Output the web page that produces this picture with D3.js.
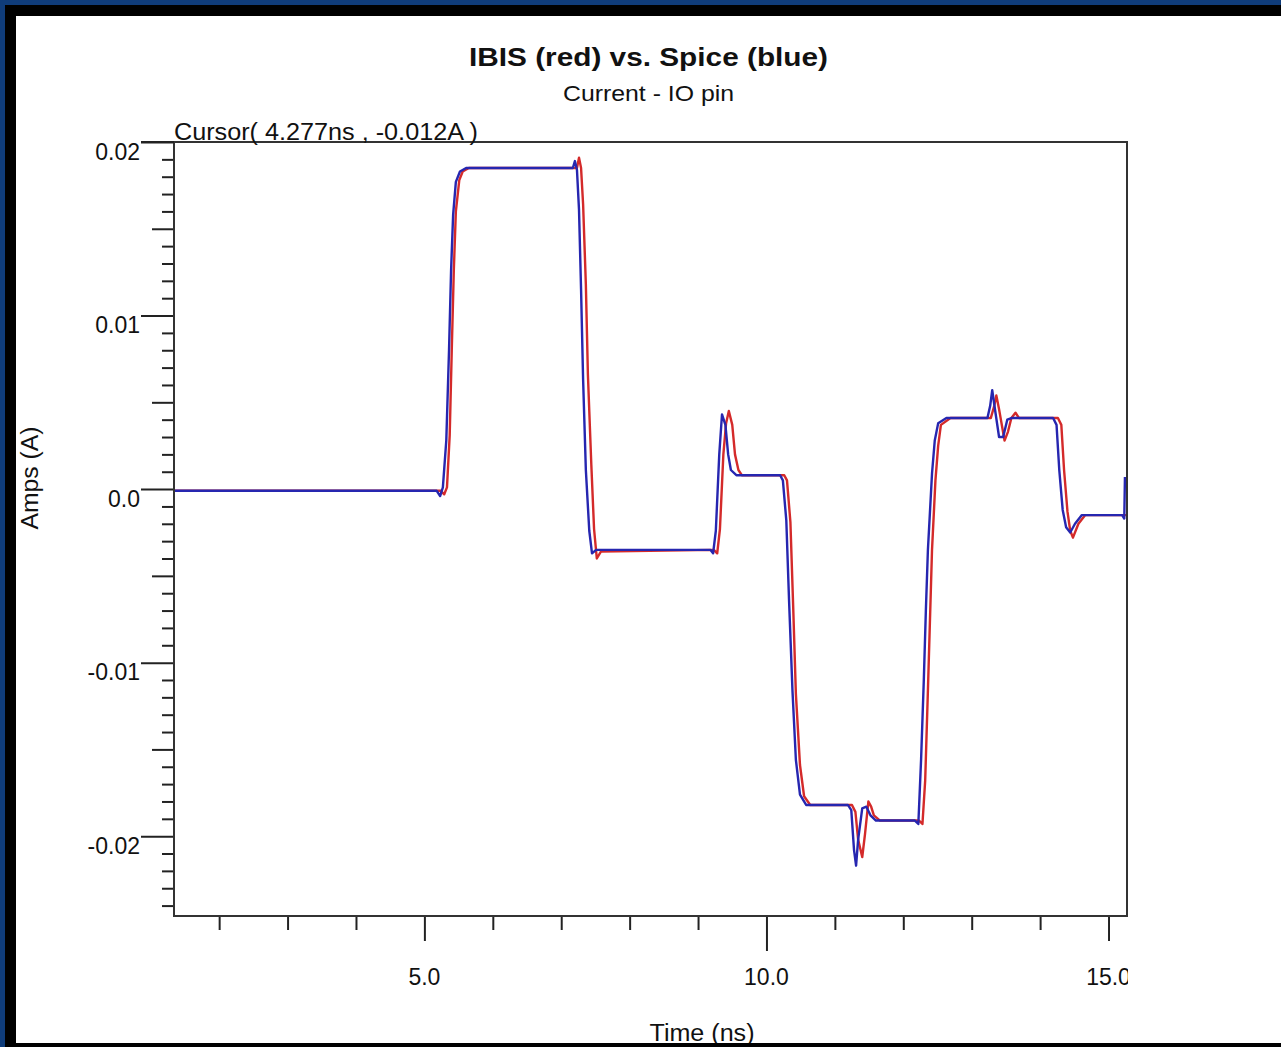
<!doctype html>
<html>
<head>
<meta charset="utf-8">
<script src="https://d3js.org/d3.v7.min.js"></script>
<style>
body{margin:0;background:#0f3c7a;overflow:hidden;}
text{font-family:"Liberation Sans",Arial,sans-serif;fill:#111;}
</style>
</head>
<body>
<script>
//*****************
//values (time in ns, current in A)
var spiceTime = [1.34,5.18,5.23,5.27,5.32,5.36,5.39,5.42,5.46,5.52,5.61,7.17,7.20,7.23,7.26,7.29,7.32,7.36,7.41,7.45,7.51,
  9.18,9.22,9.26,9.31,9.35,9.40,9.44,9.48,9.56,10.20,10.24,10.29,10.33,10.38,10.43,10.49,10.58,11.19,11.24,11.28,11.31,
  11.34,11.40,11.46,11.52,11.60,12.17,12.22,12.26,12.30,12.33,12.36,12.42,12.46,12.51,12.63,13.23,13.27,13.30,13.34,
  13.40,13.46,13.52,13.59,14.19,14.24,14.28,14.33,14.38,14.44,14.51,14.61,15.20,15.23,15.24];
var spiceAmps = [-0.0001,-0.0001,-0.0004,0.0001,0.0028,0.0080,0.0126,0.0158,0.0177,0.0183,0.0185,0.0185,0.0189,0.0184,
  0.0161,0.0115,0.0063,0.0011,-0.0024,-0.0037,-0.0035,-0.0035,-0.0037,-0.0024,0.0020,0.0043,0.0037,0.0020,0.0011,0.0008,
  0.0008,0.0005,-0.0018,-0.0064,-0.0116,-0.0156,-0.0176,-0.0182,-0.0182,-0.0185,-0.0208,-0.0217,-0.0202,-0.0184,-0.0183,
  -0.0188,-0.0191,-0.0191,-0.0193,-0.0156,-0.0110,-0.0070,-0.0035,0.0009,0.0028,0.0038,0.0041,0.0041,0.0048,0.0057,
  0.0046,0.0030,0.0030,0.0040,0.0041,0.0041,0.0037,0.0011,-0.0012,-0.0022,-0.0025,-0.0020,-0.0015,-0.0015,-0.0017,0.0007];
var ibisTime = [1.34,5.24,5.29,5.33,5.37,5.40,5.43,5.46,5.51,5.56,5.65,7.23,7.26,7.29,7.32,7.36,7.39,7.44,7.48,7.52,7.58,
  9.23,9.28,9.32,9.37,9.41,9.45,9.50,9.54,9.59,9.64,10.26,10.30,10.35,10.39,10.43,10.49,10.55,10.64,11.25,11.30,11.34,
  11.40,11.44,11.49,11.53,11.57,11.66,12.23,12.28,12.32,12.36,12.42,12.47,12.51,12.55,12.69,13.28,13.33,13.36,13.40,
  13.48,13.53,13.58,13.64,13.69,14.26,14.31,14.35,14.40,14.44,14.48,14.56,14.66,15.27];
var ibisAmps = [-0.0001,-0.0001,-0.0003,0.0001,0.0031,0.0080,0.0126,0.0160,0.0178,0.0183,0.0185,0.0185,0.0191,0.0185,
  0.0164,0.0118,0.0066,0.0014,-0.0023,-0.0040,-0.0036,-0.0035,-0.0037,-0.0023,0.0020,0.0038,0.0045,0.0037,0.0020,0.0011,
  0.0008,0.0008,0.0005,-0.0019,-0.0067,-0.0118,-0.0159,-0.0177,-0.0182,-0.0182,-0.0186,-0.0202,-0.0212,-0.0199,-0.0180,
  -0.0183,-0.0188,-0.0191,-0.0191,-0.0193,-0.0168,-0.0116,-0.0035,0.0005,0.0025,0.0037,0.0041,0.0041,0.0048,0.0054,
  0.0046,0.0028,0.0033,0.0041,0.0044,0.0041,0.0041,0.0037,0.0011,-0.0013,-0.0024,-0.0028,-0.0020,-0.0015,-0.0015];
var yMajorValues = [0.02,0.01,0,-0.01,-0.02];
var yMajorLabels = ["0.02","0.01","0.0","-0.01","-0.02"];
var yMidValues = [0.015,0.005,-0.005,-0.015];
var xMajorValues = [5,10,15];
var xMajorLabels = ["5.0","10.0","15.0"];
var xMinorValues = [2,3,4,6,7,8,9,11,12,13,14];
var xDomain = [1.34,15.27];
var yDomain = [-0.0246,0.02];
//**********************

var width = 1281, height = 1047;
var plot = {left:174, top:142, right:1127, bottom:916};

var svg = d3.select("body").append("svg").attr("width",width).attr("height",height);

//---window frame
svg.append("rect").attr("x",0).attr("y",0).attr("width",width).attr("height",height).attr("fill","#0f3c7a");
svg.append("rect").attr("x",5).attr("y",5).attr("width",width).attr("height",height).attr("fill","#000");
svg.append("rect").attr("x",16).attr("y",16).attr("width",width).attr("height",1027).attr("fill","#fff");

var xScale = d3.scaleLinear().domain(xDomain).range([plot.left,plot.right]);
var yScale = d3.scaleLinear().domain(yDomain).range([plot.bottom,plot.top]);

//---y minor ticks every 0.001
var yMinor = d3.range(-24,20).map(function(d){ return d/1000; })
  .filter(function(d){ return yMajorValues.indexOf(d)<0 && yMidValues.indexOf(d)<0; });

function styleAxis(g){
  g.select(".domain").remove();
  g.selectAll("line").attr("stroke","#222").attr("stroke-width",2);
}

svg.append("g").attr("transform","translate("+plot.left+",0)")
  .call(d3.axisLeft(yScale).tickValues(yMinor).tickSize(12).tickFormat(""))
  .call(styleAxis);
svg.append("g").attr("transform","translate("+plot.left+",0)")
  .call(d3.axisLeft(yScale).tickValues(yMidValues).tickSize(22).tickFormat(""))
  .call(styleAxis);
var yMajor = svg.append("g").attr("transform","translate("+plot.left+",0)")
  .call(d3.axisLeft(yScale).tickValues(yMajorValues).tickSize(33).tickPadding(1)
    .tickFormat(function(d,i){ return yMajorLabels[i]; }))
  .call(styleAxis);
yMajor.selectAll("text").attr("dy","0.74em").style("font-size","23px")
  .style("font-family","'Liberation Sans',Arial,sans-serif").attr("fill","#111");

//---x ticks
svg.append("g").attr("transform","translate(0,"+plot.bottom+")")
  .call(d3.axisBottom(xScale).tickValues(xMinorValues).tickSize(14).tickFormat(""))
  .call(styleAxis);
svg.append("g").attr("transform","translate(0,"+plot.bottom+")")
  .call(d3.axisBottom(xScale).tickValues([5,15]).tickSize(25).tickFormat(""))
  .call(styleAxis);
svg.append("g").attr("transform","translate(0,"+plot.bottom+")")
  .call(d3.axisBottom(xScale).tickValues([10]).tickSize(35).tickFormat(""))
  .call(styleAxis);

//---x labels, last one cut at the plot edge
svg.append("clipPath").attr("id","xlab").append("rect")
  .attr("x",0).attr("y",plot.bottom).attr("width",plot.right+1).attr("height",120);
svg.append("g").attr("clip-path","url(#xlab)")
  .selectAll("text").data(xMajorValues).enter().append("text")
  .attr("x",function(d){ return xScale(d); })
  .attr("y",985)
  .attr("text-anchor","middle")
  .style("font-size","23px")
  .text(function(d,i){ return xMajorLabels[i]; });

//---curves
svg.append("clipPath").attr("id","plotclip").append("rect")
  .attr("x",plot.left).attr("y",plot.top).attr("width",plot.right-plot.left).attr("height",plot.bottom-plot.top);

var linePath = d3.line()
  .x(function(d){ return xScale(d[0]); })
  .y(function(d){ return yScale(d[1]); });

var ibis = d3.zip(ibisTime,ibisAmps);
var spice = d3.zip(spiceTime,spiceAmps);

var curves = svg.append("g").attr("clip-path","url(#plotclip)");
curves.append("path").attr("d",linePath(ibis))
  .attr("fill","none").attr("stroke","#d42a2a").attr("stroke-width",2.4).attr("stroke-linejoin","round");
curves.append("path").attr("d",linePath(spice))
  .attr("fill","none").attr("stroke","#2626b0").attr("stroke-width",2.4).attr("stroke-linejoin","round");

//---plot box
svg.append("rect").attr("x",plot.left).attr("y",plot.top)
  .attr("width",plot.right-plot.left).attr("height",plot.bottom-plot.top)
  .attr("fill","none").attr("stroke","#333").attr("stroke-width",2);
svg.append("line").attr("x1",141).attr("x2",plot.left).attr("y1",plot.top).attr("y2",plot.top)
  .attr("stroke","#222").attr("stroke-width",2);

//---texts
svg.append("text").attr("x",648.5).attr("y",66).attr("text-anchor","middle")
  .attr("textLength",359).attr("lengthAdjust","spacingAndGlyphs")
  .style("font-size","25px").style("font-weight","bold")
  .text("IBIS (red) vs. Spice (blue)");
svg.append("text").attr("x",648.5).attr("y",101).attr("text-anchor","middle")
  .attr("textLength",171).attr("lengthAdjust","spacingAndGlyphs")
  .style("font-size","22px")
  .text("Current - IO pin");
svg.append("text").attr("x",plot.left).attr("y",140)
  .attr("textLength",304).attr("lengthAdjust","spacingAndGlyphs")
  .style("font-size","23px")
  .text("Cursor( 4.277ns , -0.012A )");
svg.append("text").attr("transform","translate(38,478) rotate(-90)").attr("text-anchor","middle")
  .attr("textLength",103).attr("lengthAdjust","spacingAndGlyphs")
  .style("font-size","23px")
  .text("Amps (A)");
svg.append("text").attr("x",702).attr("y",1041).attr("text-anchor","middle")
  .attr("textLength",105).attr("lengthAdjust","spacingAndGlyphs")
  .style("font-size","23px")
  .text("Time (ns)");

//---bottom frame edge covers the foot of the axis title
svg.append("rect").attr("x",5).attr("y",1043).attr("width",width).attr("height",10).attr("fill","#000");
</script>
</body>
</html>
